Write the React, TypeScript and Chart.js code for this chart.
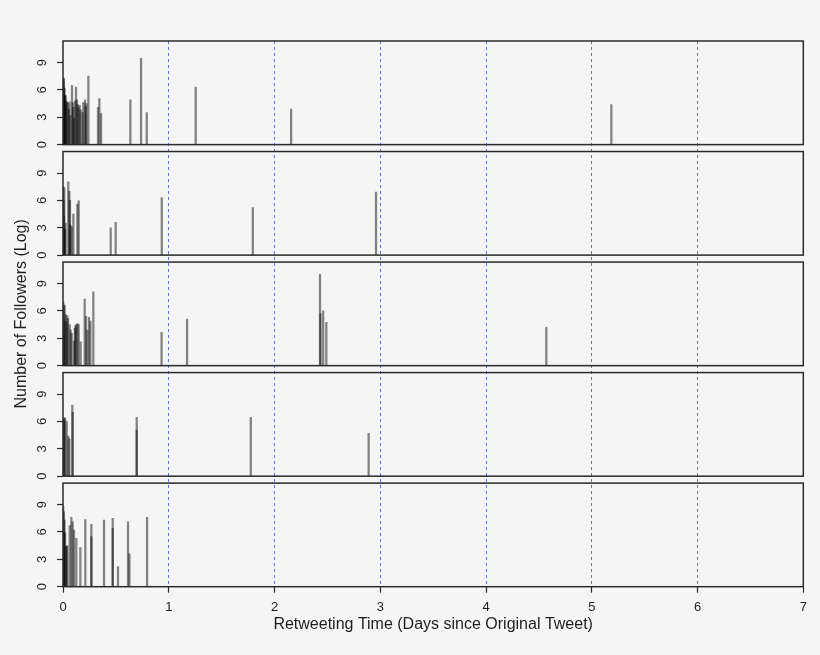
import React, { useEffect, useRef } from "react";
import { Chart, registerables } from "chart.js";

Chart.register(...registerables);

// ---- data ----
const X_TICKS = [0, 1, 2, 3, 4, 5, 6, 7];
const Y_TICKS = [0, 3, 6, 9];
const DASHED_DAYS = [1, 2, 3, 4, 5, 6];
const PANEL_TOP = 11.36;
const SCALE_MAX = 12.12;

const p1Days = [0.002, 0.005, 0.008, 0.011, 0.015, 0.02, 0.025, 0.03, 0.038, 0.045, 0.055, 0.062, 0.07, 0.085, 0.092, 0.098, 0.104, 0.115, 0.123, 0.132, 0.14, 0.148, 0.158, 0.167, 0.185, 0.192, 0.208, 0.215, 0.221, 0.24, 0.331, 0.344, 0.36, 0.637, 0.738, 0.792, 1.255, 2.157, 5.185];
const p1Followers = [7.2, 6.9, 7.3, 5.5, 6.2, 5.3, 5.4, 4.8, 4.6, 4.6, 3.9, 4.7, 3.2, 6.5, 4.6, 4.1, 2.9, 4.8, 6.3, 4.9, 4.4, 4.1, 4.3, 3.8, 3.5, 4.6, 4.9, 4.2, 4.5, 7.5, 4.1, 5.05, 3.4, 4.9, 9.45, 3.5, 6.3, 3.9, 4.4];

const p2Days = [0.002, 0.005, 0.008, 0.012, 0.018, 0.025, 0.05, 0.06, 0.066, 0.07, 0.082, 0.098, 0.136, 0.148, 0.451, 0.498, 0.934, 1.795, 2.96];
const p2Followers = [7.5, 6.0, 4.3, 7.4, 2.8, 3.5, 8.05, 7.0, 6.0, 3.3, 3.1, 4.5, 5.6, 5.95, 3.0, 3.6, 6.3, 5.2, 6.9];

const p3Days = [0.002, 0.006, 0.01, 0.016, 0.025, 0.032, 0.04, 0.047, 0.063, 0.072, 0.082, 0.104, 0.112, 0.117, 0.126, 0.136, 0.148, 0.167, 0.205, 0.218, 0.23, 0.246, 0.259, 0.287, 0.932, 1.173, 2.43, 2.435, 2.46, 2.49, 4.57];
const p3Followers = [7.0, 6.7, 5.0, 6.6, 5.6, 4.8, 5.5, 5.2, 4.5, 3.9, 3.55, 2.7, 4.1, 4.4, 4.5, 4.6, 4.5, 2.6, 7.3, 5.4, 3.9, 5.3, 4.9, 8.1, 3.65, 5.1, 10.0, 5.7, 6.0, 4.75, 4.2];

const p4Days = [0.002, 0.006, 0.012, 0.02, 0.035, 0.05, 0.06, 0.088, 0.092, 0.697, 0.697, 1.776, 2.89];
const p4Followers = [6.45, 6.3, 6.2, 6.4, 6.0, 4.4, 4.1, 7.8, 7.0, 6.45, 5.05, 6.45, 4.7];

const p5Days = [0.002, 0.005, 0.009, 0.014, 0.02, 0.026, 0.034, 0.04, 0.063, 0.079, 0.091, 0.104, 0.126, 0.164, 0.211, 0.268, 0.268, 0.388, 0.47, 0.47, 0.52, 0.615, 0.628, 0.795];
const p5Followers = [8.8, 6.0, 8.2, 7.3, 5.9, 4.4, 4.4, 4.5, 6.7, 7.6, 7.1, 6.2, 5.3, 4.3, 7.35, 6.85, 5.5, 7.3, 7.5, 6.4, 2.2, 7.1, 3.6, 7.6];

const PANELS = [
  [p1Days, p1Followers],
  [p2Days, p2Followers],
  [p3Days, p3Followers],
  [p4Days, p4Followers],
  [p5Days, p5Followers],
];

const FONT = "'Liberation Sans', Arial, Helvetica, sans-serif";
const TEXT = "#1e1e1e";
const FRAME = "#2a2a2a";

const panelBoxes = {
  id: "panelBoxes",
  afterDatasetsDraw(chart: any) {
    const { ctx, chartArea } = chart;
    ctx.save();
    ctx.strokeStyle = FRAME;
    ctx.lineWidth = 1.5;
    for (let i = 1; i <= PANELS.length; i++) {
      const s = chart.scales["y" + i];
      const top = s.getPixelForValue(PANEL_TOP);
      const bottom = s.getPixelForValue(0);
      ctx.strokeRect(chartArea.left, top, chartArea.right - chartArea.left, bottom - top);
    }
    ctx.restore();
  },
};

export default function App() {
  const ref = useRef<HTMLCanvasElement | null>(null);

  useEffect(() => {
    if (!ref.current) return;
    Chart.defaults.font.family = FONT;

    const datasets = PANELS.map(([days, vals], i) => ({
      type: "bar" as const,
      data: days.map((d, j) => ({ x: d, y: vals[j] })),
      yAxisID: "y" + (i + 1),
      backgroundColor: "rgba(0,0,0,0.47)",
      borderWidth: 0,
      barThickness: 1.6,
      grouped: false,
    }));

    const scales: any = {
      x: {
        type: "linear",
        min: 0,
        max: 7,
        offset: false,
        afterBuildTicks: (s: any) => {
          s.ticks = X_TICKS.map((v) => ({ value: v }));
        },
        afterFit: (s: any) => {
          s.height = 47.9;
        },
        ticks: { padding: 7, font: { size: 13 }, color: TEXT, maxRotation: 0, autoSkip: false },
        grid: {
          offset: false,
          drawOnChartArea: true,
          drawTicks: true,
          tickLength: 6,
          lineWidth: 1,
          color: (c: any) => (c.tick && DASHED_DAYS.includes(c.tick.value) ? "#5c74d8" : "rgba(0,0,0,0)"),
          tickColor: FRAME,
          tickWidth: 1.2,
        },
        border: { display: false, dash: [3, 3] },
        title: {
          display: true,
          text: "Retweeting Time (Days since Original Tweet)",
          font: { size: 16 },
          color: TEXT,
          padding: { top: 4, bottom: 0 },
        },
      },
    };

    PANELS.forEach((_, idx) => {
      const i = idx + 1;
      const max = i === 1 ? PANEL_TOP : SCALE_MAX;
      scales["y" + i] = {
        type: "linear",
        position: "left",
        stack: "panels",
        stackWeight: max,
        weight: 10 - i,
        min: 0,
        max,
        afterBuildTicks: (s: any) => {
          s.ticks = Y_TICKS.map((v) => ({ value: v }));
        },
        afterFit: (s: any) => {
          s.width = 27.8;
        },
        ticks: {
          minRotation: 90,
          maxRotation: 90,
          crossAlign: "center",
          padding: 11,
          font: { size: 13 },
          color: TEXT,
          autoSkip: false,
        },
        grid: {
          drawOnChartArea: false,
          drawTicks: true,
          tickLength: 6,
          tickColor: FRAME,
          tickWidth: 1.2,
        },
        border: { display: false },
      };
    });

    const chart = new Chart(ref.current, {
      type: "bar",
      data: { datasets },
      options: {
        animation: false,
        responsive: false,
        devicePixelRatio: 1,
        layout: { padding: { left: 8, right: 16.7, top: 41, bottom: 20.4 } },
        plugins: {
          legend: { display: false },
          tooltip: { enabled: false },
          title: {
            display: true,
            text: "Number of Followers (Log)",
            position: "left",
            fullSize: false,
            font: { size: 16, weight: "normal" },
            color: TEXT,
            padding: { top: 4, bottom: 4 },
          },
        },
        scales,
      },
      plugins: [panelBoxes],
    } as any);

    return () => chart.destroy();
  }, []);

  return (
    <div
      style={{
        position: "absolute",
        left: 0,
        top: 0,
        width: 820,
        height: 655,
        background: "#f5f5f5",
      }}
    >
      <canvas ref={ref} width={820} height={655} style={{ display: "block" }} />
    </div>
  );
}
